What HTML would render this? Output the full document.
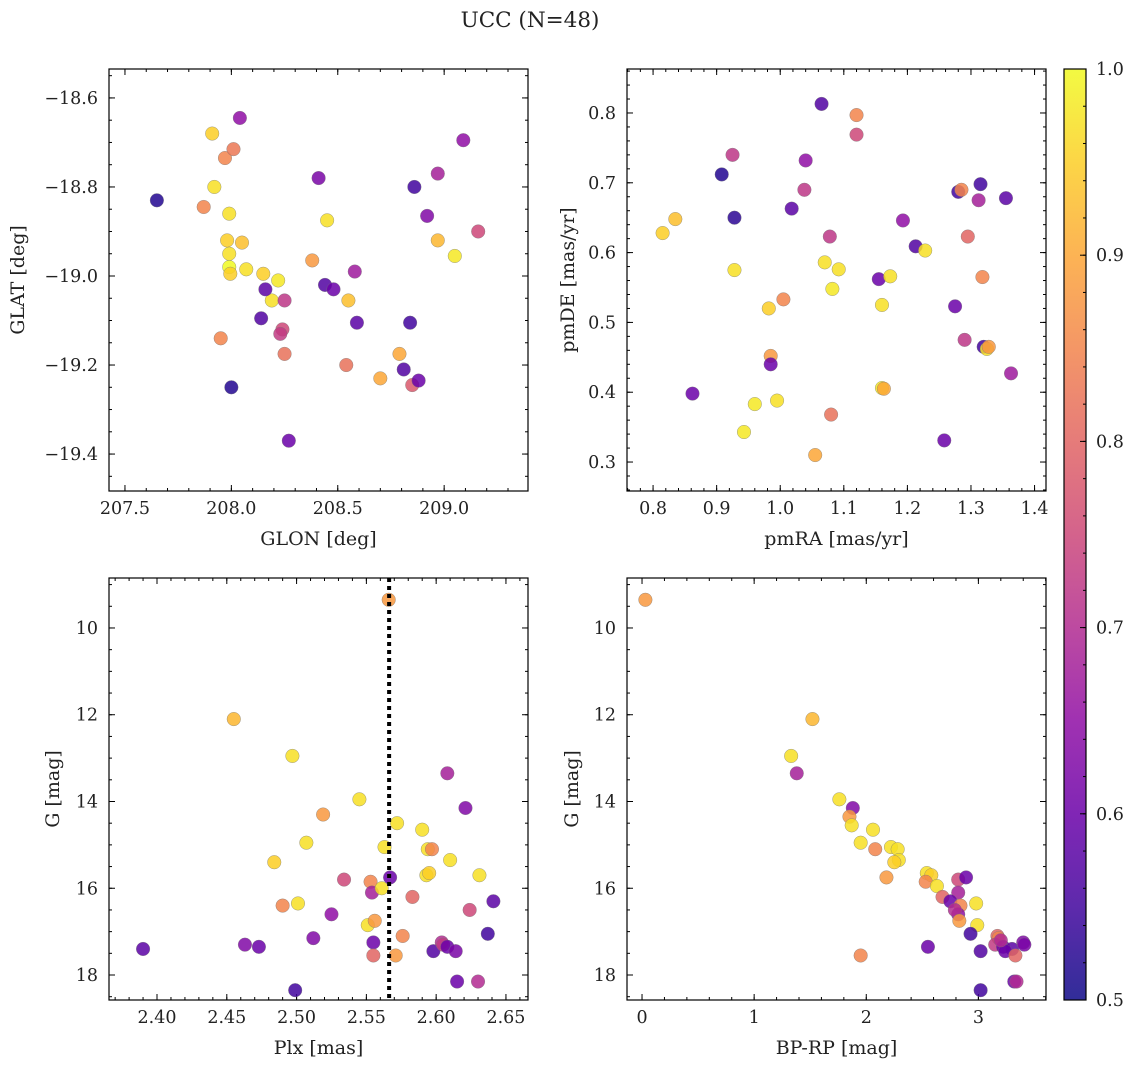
<!DOCTYPE html>
<html><head><meta charset="utf-8"><style>
html,body{margin:0;padding:0;background:#fff;width:1136px;height:1068px;overflow:hidden}
svg text{font-family:"DejaVu Serif","Liberation Serif",serif;fill:#222}
</style></head><body>
<svg id="chart" width="1136" height="1068" xmlns="http://www.w3.org/2000/svg">
<text x="530" y="27" font-size="21.5" text-anchor="middle">UCC (N=48)</text>
</svg>
<script>
// Panel 1: GLON vs GLAT
const glon=[207.65,207.87,207.91,207.92,208.04,207.97,208.01,207.99,207.98,207.99,207.99,207.995,208.05,208.07,208.15,208.22,208.19,208.16,208.14,208.25,208.24,208.23,208.25,207.95,208.0,208.27,208.41,208.45,208.38,208.44,208.48,208.58,208.55,208.59,208.54,208.70,208.79,208.81,208.85,208.88,208.84,208.86,208.92,208.97,208.97,209.05,209.09,209.16];
const glat=[-18.83,-18.845,-18.68,-18.80,-18.645,-18.735,-18.715,-18.86,-18.92,-18.95,-18.98,-18.995,-18.925,-18.985,-18.995,-19.01,-19.055,-19.03,-19.095,-19.055,-19.12,-19.13,-19.175,-19.14,-19.25,-19.37,-18.78,-18.875,-18.965,-19.02,-19.03,-18.99,-19.055,-19.105,-19.2,-19.23,-19.175,-19.21,-19.245,-19.235,-19.105,-18.80,-18.865,-18.77,-18.92,-18.955,-18.695,-18.90];
const prob1=[0.52,0.85,0.95,0.97,0.65,0.85,0.83,0.97,0.95,0.97,1.0,0.95,0.93,0.97,0.95,0.98,0.97,0.58,0.57,0.72,0.75,0.73,0.82,0.85,0.52,0.6,0.62,0.97,0.88,0.57,0.6,0.67,0.93,0.58,0.82,0.9,0.9,0.57,0.78,0.6,0.55,0.55,0.63,0.68,0.92,0.98,0.65,0.75];
// Panel 2: pmRA vs pmDE
const pmra=[0.815,0.835,0.862,0.908,0.925,0.928,0.928,0.943,0.96,0.982,0.985,0.985,0.995,1.005,1.018,1.038,1.04,1.055,1.065,1.07,1.078,1.08,1.082,1.092,1.12,1.12,1.155,1.16,1.163,1.16,1.173,1.193,1.213,1.228,1.258,1.275,1.28,1.285,1.29,1.295,1.312,1.315,1.318,1.32,1.325,1.328,1.355,1.363];
const pmde=[0.628,0.648,0.398,0.712,0.74,0.65,0.575,0.343,0.383,0.52,0.452,0.44,0.388,0.533,0.663,0.69,0.732,0.31,0.813,0.586,0.623,0.368,0.548,0.576,0.797,0.769,0.562,0.406,0.405,0.525,0.566,0.646,0.609,0.603,0.331,0.523,0.687,0.69,0.475,0.623,0.675,0.698,0.565,0.465,0.462,0.465,0.678,0.427];
const prob2=[0.95,0.93,0.6,0.52,0.72,0.53,0.97,0.98,0.98,0.95,0.88,0.6,0.97,0.85,0.58,0.72,0.65,0.9,0.57,0.97,0.72,0.82,0.98,0.97,0.85,0.75,0.6,0.98,0.9,0.97,0.97,0.65,0.57,0.97,0.6,0.6,0.55,0.85,0.72,0.8,0.68,0.55,0.85,0.55,0.97,0.88,0.58,0.67];
// Panel 3: Plx vs G
const plx=[2.39,2.455,2.463,2.473,2.484,2.49,2.497,2.499,2.501,2.507,2.512,2.519,2.525,2.534,2.545,2.551,2.553,2.554,2.555,2.555,2.556,2.561,2.563,2.566,2.567,2.571,2.572,2.576,2.583,2.59,2.593,2.594,2.595,2.597,2.598,2.604,2.605,2.608,2.608,2.61,2.614,2.615,2.621,2.624,2.63,2.631,2.637,2.641];
const gmag3=[17.4,12.1,17.3,17.35,15.4,16.4,12.95,18.35,16.35,14.95,17.15,14.3,16.6,15.8,13.95,16.85,15.85,16.1,17.25,17.55,16.75,16.0,15.05,9.35,15.75,17.55,14.5,17.1,16.2,14.65,15.7,15.1,15.65,15.1,17.45,17.25,17.3,17.35,13.35,15.35,17.45,18.15,14.15,16.5,18.15,15.7,17.05,16.3];
const prob3=[0.58,0.92,0.63,0.6,0.95,0.85,0.97,0.55,0.97,0.97,0.63,0.88,0.65,0.75,0.97,0.97,0.85,0.68,0.6,0.8,0.88,0.97,0.97,0.88,0.6,0.88,0.97,0.85,0.8,0.97,0.97,0.97,0.95,0.85,0.57,0.7,0.73,0.6,0.68,0.97,0.62,0.6,0.63,0.75,0.7,0.97,0.55,0.58];
const plxLine=[2.5663];
// Panel 4: BP-RP vs G
const bprp=[0.03,1.52,1.33,1.38,1.76,1.88,1.85,1.87,2.06,1.95,2.08,2.22,2.28,2.29,2.25,2.18,2.54,2.58,2.53,2.63,2.82,2.89,2.82,2.68,2.75,2.98,2.84,2.82,2.79,2.83,2.99,2.55,2.93,3.17,3.18,3.15,3.22,3.3,3.4,3.41,3.02,3.24,3.33,1.95,3.02,3.32,3.34,3.2];
const gmag4=[9.35,12.1,12.95,13.35,13.95,14.15,14.35,14.55,14.65,14.95,15.1,15.05,15.1,15.35,15.4,15.75,15.65,15.7,15.85,15.95,15.8,15.75,16.1,16.2,16.3,16.35,16.4,16.6,16.5,16.75,16.85,17.35,17.05,17.1,17.15,17.3,17.35,17.4,17.25,17.3,17.45,17.45,17.55,17.55,18.35,18.15,18.15,17.2];
const prob4=[0.88,0.92,0.97,0.68,0.97,0.63,0.88,0.97,0.97,0.97,0.85,0.97,0.97,0.97,0.95,0.88,0.97,0.95,0.85,0.97,0.75,0.6,0.68,0.8,0.6,0.97,0.85,0.65,0.7,0.88,0.97,0.6,0.55,0.8,0.85,0.73,0.6,0.58,0.63,0.62,0.57,0.6,0.8,0.85,0.55,0.6,0.7,0.7];
// Tick labels
const ticks1x=[207.5,208.0,208.5,209.0], ticks1xLab=["207.5","208.0","208.5","209.0"];
const ticks1y=[-18.6,-18.8,-19.0,-19.2,-19.4], ticks1yLab=["−18.6","−18.8","−19.0","−19.2","−19.4"];
const ticks2x=[0.8,0.9,1.0,1.1,1.2,1.3,1.4], ticks2xLab=["0.8","0.9","1.0","1.1","1.2","1.3","1.4"];
const ticks2y=[0.3,0.4,0.5,0.6,0.7,0.8], ticks2yLab=["0.3","0.4","0.5","0.6","0.7","0.8"];
const ticks3x=[2.40,2.45,2.50,2.55,2.60,2.65], ticks3xLab=["2.40","2.45","2.50","2.55","2.60","2.65"];
const ticksGy=[10,12,14,16,18], ticksGyLab=["10","12","14","16","18"];
const ticks4x=[0,1,2,3], ticks4xLab=["0","1","2","3"];
const ticksCb=[0.5,0.6,0.7,0.8,0.9,1.0], ticksCbLab=["0.5","0.6","0.7","0.8","0.9","1.0"];

const NS="http://www.w3.org/2000/svg";
const svg=document.getElementById('chart');
function mk(tag,attrs,parent){const e=document.createElementNS(NS,tag);for(const k in attrs)e.setAttribute(k,attrs[k]);(parent||svg).appendChild(e);return e;}
const stops=[[13,8,135],[65,4,157],[106,0,168],[143,13,164],[177,42,144],[204,71,120],[225,100,98],[242,132,75],[252,166,54],[252,206,37],[240,249,33]];
function plasma(t){t=Math.max(0,Math.min(1,t));const f=t*10,i=Math.min(9,Math.floor(f)),r=f-i;const a=stops[i],b=stops[i+1];
 const c=a.map((v,k)=>Math.round(v+(b[k]-v)*r));return `rgb(${c[0]},${c[1]},${c[2]})`;}
function pc(p){return plasma((p-0.5)/0.5);}
const TF=17.5, LF=19;

function panel(cfg){
 const {x0,y0,x1,y1,xd,yd,inv}=cfg;
 const sx=v=>x0+(v-xd[0])/(xd[1]-xd[0])*(x1-x0);
 const sy=inv?(v=>y0+(v-yd[0])/(yd[1]-yd[0])*(y1-y0)):(v=>y1-(v-yd[0])/(yd[1]-yd[0])*(y1-y0));
 const g=mk('g',{});
 
 
 const minor=(lo,step,hi,fn)=>{const n=Math.ceil((lo-1e-9)/step);for(let k=n;k*step<=hi+1e-9;k++)fn(k*step);};
 const xlo=Math.min(...xd),xhi=Math.max(...xd),ylo=Math.min(...yd),yhi=Math.max(...yd);
 minor(xlo,cfg.mx,xhi,v=>{const x=sx(v);mk('line',{x1:x,x2:x,y1:y1,y2:y1-3,stroke:'#000','stroke-width':1},g);mk('line',{x1:x,x2:x,y1:y0,y2:y0+3,stroke:'#000','stroke-width':1},g);});
 minor(ylo,cfg.my,yhi,v=>{const y=sy(v);mk('line',{x1:x0,x2:x0+3,y1:y,y2:y,stroke:'#000','stroke-width':1},g);mk('line',{x1:x1,x2:x1-3,y1:y,y2:y,stroke:'#000','stroke-width':1},g);});
 cfg.tx.forEach((v,i)=>{const x=sx(v);mk('line',{x1:x,x2:x,y1:y1,y2:y1-6,stroke:'#000','stroke-width':1},g);mk('line',{x1:x,x2:x,y1:y0,y2:y0+6,stroke:'#000','stroke-width':1},g);
  const t=mk('text',{x:x,y:y1+23,'font-size':TF,'text-anchor':'middle'},g);t.textContent=cfg.txl[i];
  });
 cfg.ty.forEach((v,i)=>{const y=sy(v);mk('line',{x1:x0,x2:x0+6,y1:y,y2:y,stroke:'#000','stroke-width':1},g);mk('line',{x1:x1,x2:x1-6,y1:y,y2:y,stroke:'#000','stroke-width':1},g);
  const t=mk('text',{x:x0-11,y:y+6,'font-size':TF,'text-anchor':'end'},g);t.textContent=cfg.tyl[i];
  });
 cfg.xs.forEach((v,i)=>{const c=mk('circle',{cx:sx(v),cy:sy(cfg.ys[i]),r:6.8,fill:pc(cfg.ps[i]),'fill-opacity':0.85,stroke:'#777','stroke-width':0.5,'stroke-opacity':0.7},g);
  });
 if(cfg.vline!==undefined){const x=sx(cfg.vline);const l=mk('line',{x1:x,x2:x,y1:y0,y2:y1,stroke:'#000','stroke-width':4,'stroke-dasharray':'4,4'},g);
  }
 const fr=mk('rect',{x:x0,y:y0,width:x1-x0,height:y1-y0,fill:'none',stroke:'#000','stroke-width':1.2},g);
 
 const xl=mk('text',{x:(x0+x1)/2,y:y1+54,'font-size':LF,'text-anchor':'middle'},g);xl.textContent=cfg.xlab;
 
 const yx=cfg.ylx,yy=(y0+y1)/2;
 const yl=mk('text',{x:yx,y:yy,'font-size':LF,'text-anchor':'middle',transform:`rotate(-90 ${yx} ${yy})`},g);yl.textContent=cfg.ylab;
 
}
panel({name:'glon-glat-panel',x0:109,y0:69,x1:528,y1:491,xd:[207.425,209.394],yd:[-19.483,-18.535],tx:ticks1x,txl:ticks1xLab,ty:ticks1y,tyl:ticks1yLab,mx:0.1,my:0.05,xs:glon,ys:glat,ps:prob1,xlab:'GLON [deg]',ylab:'GLAT [deg]',ylx:24});
panel({name:'pm-panel',x0:627,y0:69,x1:1046,y1:491,xd:[0.759,1.418],yd:[0.2585,0.863],tx:ticks2x,txl:ticks2xLab,ty:ticks2y,tyl:ticks2yLab,mx:0.02,my:0.02,xs:pmra,ys:pmde,ps:prob2,xlab:'pmRA [mas/yr]',ylab:'pmDE [mas/yr]',ylx:574});
panel({name:'plx-g-panel',x0:109,y0:578,x1:528,y1:1000,xd:[2.3656,2.6658],yd:[8.848,18.576],inv:true,tx:ticks3x,txl:ticks3xLab,ty:ticksGy,tyl:ticksGyLab,mx:0.01,my:0.5,xs:plx,ys:gmag3,ps:prob3,xlab:'Plx [mas]',ylab:'G [mag]',ylx:59,vline:plxLine[0]});
panel({name:'cmd-panel',x0:627,y0:578,x1:1046,y1:1000,xd:[-0.134,3.603],yd:[8.848,18.576],inv:true,tx:ticks4x,txl:ticks4xLab,ty:ticksGy,tyl:ticksGyLab,mx:0.2,my:0.5,xs:bprp,ys:gmag4,ps:prob4,xlab:'BP-RP [mag]',ylab:'G [mag]',ylx:578});

// Colorbar
const cb=mk('g',{});


const cx0=1064,cx1=1086,cy0=69,cy1=1000;
const defs=mk('defs',{},cb);const lg=mk('linearGradient',{id:'cbg',x1:0,y1:1,x2:0,y2:0},defs);
for(let i=0;i<=20;i++){mk('stop',{offset:i/20,'stop-color':plasma(i/20),'stop-opacity':0.85},lg);}
mk('rect',{x:cx0,y:cy0,width:cx1-cx0,height:cy1-cy0,fill:'url(#cbg)',stroke:'#000','stroke-width':1.2},cb);
const cy=v=>cy1-(v-0.5)/0.5*(cy1-cy0);
for(let k=50;k<=100;k+=2){const y=cy(k/100);mk('line',{x1:cx1,x2:cx1-3,y1:y,y2:y,stroke:'#000','stroke-width':1},cb);}
ticksCb.forEach((v,i)=>{const y=cy(v);mk('line',{x1:cx1,x2:cx1-6,y1:y,y2:y,stroke:'#000','stroke-width':1},cb);
 const t=mk('text',{x:cx1+10,y:y+6,'font-size':TF},cb);t.textContent=ticksCbLab[i];
 });
</script>
</body></html>
